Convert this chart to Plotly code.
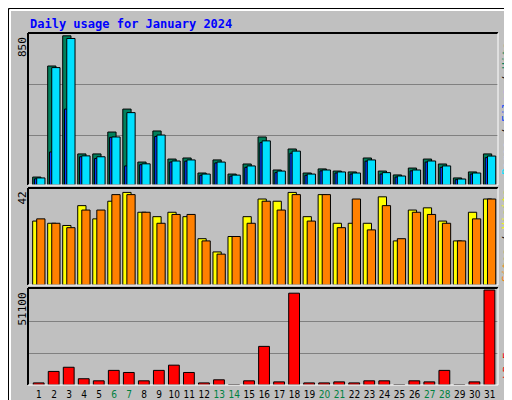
import plotly.graph_objects as go

days = list(range(1, 32))
weekend = [6, 7, 13, 14, 20, 21, 27, 28]
hits = [45, 674, 845, 176, 176, 300, 430, 130, 306, 147, 153, 68, 142, 62, 119, 272, 85, 204, 68, 91, 79, 74, 153, 79, 57, 96, 147, 119, 40, 74, 176]
files = [40, 665, 830, 165, 160, 272, 410, 120, 283, 136, 142, 62, 130, 56, 108, 250, 79, 192, 62, 85, 74, 68, 142, 70, 51, 85, 136, 108, 34, 68, 164]
pages = [35, 187, 430, 160, 150, 270, 108, 115, 275, 130, 135, 55, 125, 50, 100, 240, 70, 180, 55, 80, 68, 62, 135, 62, 45, 80, 130, 100, 30, 62, 155]
visits = [29, 28, 27, 36, 30, 38, 42, 33, 31, 33, 31, 21, 15, 22, 31, 39, 38, 42, 31, 41, 28, 28, 28, 40, 20, 34, 35, 29, 20, 33, 39]
sites = [30, 28, 26, 34, 34, 41, 41, 33, 28, 32, 32, 20, 14, 22, 28, 38, 34, 41, 29, 41, 26, 39, 25, 36, 21, 33, 32, 28, 20, 30, 39]
kbytes = [1120, 7300, 9550, 3370, 2250, 7860, 6740, 2250, 7860, 10670, 6740, 1120, 2800, 200, 2250, 20780, 1680, 49400, 1120, 1120, 1680, 1120, 2250, 2250, 200, 2250, 1680, 7860, 200, 1680, 51100]
max_labels = ["850", "42", "51100"]

W, H = 512, 400
def px(x): return x / W
def py(y): return 1 - y / H

fig = go.Figure()
line = dict(color="black", width=1)
fig.add_bar(x=days, y=hits, marker=dict(color="#00805C", line=line), width=0.55, offset=-0.42, xaxis="x", yaxis="y")
fig.add_bar(x=days, y=pages, marker=dict(color="#0040FF", line=line), width=0.3, offset=-0.3, xaxis="x", yaxis="y")
fig.add_bar(x=days, y=files, marker=dict(color="#00E0FF", line=line), width=0.55, offset=-0.15, xaxis="x", yaxis="y")
fig.add_bar(x=days, y=visits, marker=dict(color="#FFFF00", line=line), width=0.55, offset=-0.42, xaxis="x2", yaxis="y2")
fig.add_bar(x=days, y=sites, marker=dict(color="#FF8000", line=line), width=0.55, offset=-0.15, xaxis="x2", yaxis="y2")
fig.add_bar(x=days, y=kbytes, marker=dict(color="#FF0000", line=line), width=0.72, offset=-0.38, xaxis="x3", yaxis="y3")

xr = [0.27, 31.55]
xd = [px(20), px(490)]
ticktext = [f"<span style='color:#008040'>{d}</span>" if d in weekend else str(d) for d in days]
common_x = dict(range=xr, domain=xd, showgrid=False, zeroline=False, fixedrange=True, automargin=False)
fig.update_layout(
    width=W, height=H, margin=dict(l=0, r=0, t=0, b=0, autoexpand=False),
    paper_bgcolor="#C0C0C0", plot_bgcolor="#C0C0C0", showlegend=False, barmode="overlay",
    font=dict(family="DejaVu Sans Mono", size=11, color="black"),
    xaxis=dict(**common_x, anchor="y", showticklabels=False, ticks=""),
    xaxis2=dict(**common_x, anchor="y2", showticklabels=False, ticks=""),
    xaxis3=dict(**common_x, anchor="y3", tickvals=days, ticktext=ticktext, ticks="", tickangle=0,
                tickfont=dict(size=10, family="DejaVu Sans Condensed"), ticklabelstandoff=2),
    yaxis=dict(domain=[py(177), py(25)], range=[0, 861], tickvals=[283, 567], showticklabels=False, automargin=False,
               gridcolor="#808080", gridwidth=1, zeroline=False, fixedrange=True),
    yaxis2=dict(domain=[py(277), py(180)], range=[0, 44], showgrid=False, showticklabels=False, zeroline=False, fixedrange=True, automargin=False),
    yaxis3=dict(domain=[py(377), py(280)], range=[0, 52200], tickvals=[17033, 34067], showticklabels=False, automargin=False,
                gridcolor="#808080", gridwidth=1, zeroline=False, fixedrange=True),
)

shapes = []
def ln(x0, y0, x1, y1, c, w=1):
    shapes.append(dict(type="line", xref="paper", yref="paper", x0=px(x0), y0=py(y0), x1=px(x1), y1=py(y1), line=dict(color=c, width=w)))
ln(0.5, 0.5, 511.5, 0.5, "black"); ln(0.5, 0.5, 0.5, 399.5, "black")
ln(511.5, 0.5, 511.5, 399.5, "black"); ln(0.5, 399.5, 511.5, 399.5, "black")
ln(2, 2, 507, 2, "white", 2); ln(2, 2, 2, 394, "white", 2)
ln(508, 3, 508, 396, "#808080", 4); ln(3, 396, 508, 396, "#808080", 4)
for (t, b) in [(25, 177), (180, 277), (280, 377)]:
    ln(20, t, 490, t, "black", 2); ln(20, t, 20, b, "black", 2)
    ln(490, t, 490, b, "white", 1); ln(20, b, 490, b, "white", 1)
fig.update_layout(shapes=shapes)

ann = [dict(x=px(20), y=py(16), xref="paper", yref="paper", text="<b>Daily usage for January 2024</b>",
            showarrow=False, xanchor="left", yanchor="middle", font=dict(color="#0000FF", size=12, family="DejaVu Sans Mono"))]
for lab, top in zip(max_labels, [27, 182, 283]):
    ann.append(dict(x=px(14), y=py(top), xref="paper", yref="paper", text=lab, textangle=-90, showarrow=False,
                    xanchor="center", yanchor="top", font=dict(size=11)))
right = [
    ("<span style='color:#00E0FF'>Pages</span> / <span style='color:#0040FF'>Files</span> / <span style='color:#00805C'>Hits</span>", 101),
    ("<span style='color:#FF8000'>Sites</span> / <span style='color:#FFFF00'>Visits</span>", 228),
    ("<span style='color:#FF0000'>kB F</span>", 358),
]
for txt, yc in right:
    ann.append(dict(x=px(499), y=py(yc), xref="paper", yref="paper", text=txt, textangle=-90, showarrow=False,
                    xanchor="center", yanchor="middle", font=dict(size=11)))
fig.update_layout(annotations=ann)

fig.write_html("out.html")
